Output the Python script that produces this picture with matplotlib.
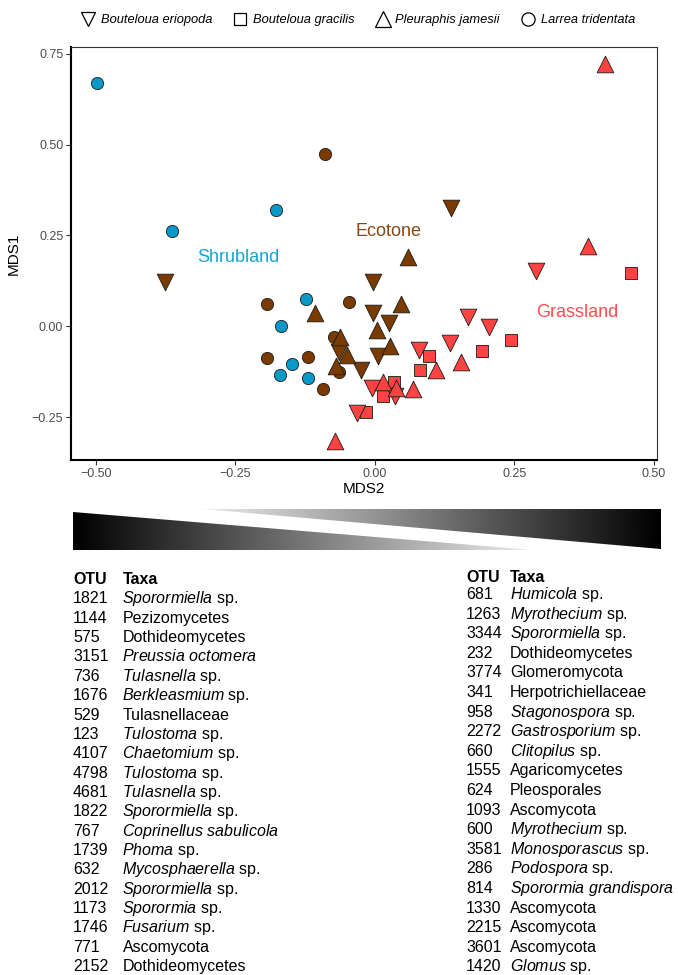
import matplotlib
matplotlib.use('Agg')
import matplotlib.pyplot as plt
import numpy as np
from matplotlib.patches import Polygon
from matplotlib.lines import Line2D

plt.rcParams['font.family'] = ['Liberation Sans', 'DejaVu Sans']
plt.rcParams['mathtext.fontset'] = 'custom'
plt.rcParams['mathtext.rm'] = 'Liberation Sans'
plt.rcParams['mathtext.it'] = 'Liberation Sans:italic'
plt.rcParams['mathtext.bf'] = 'Liberation Sans:bold'
plt.rcParams['axes.unicode_minus'] = True

# ---------------- data ----------------
# Shrubland
shrub_larrea_x = [-0.498, -0.363, -0.177, -0.124, -0.169, -0.148, -0.171, -0.120]
shrub_larrea_y = [0.669, 0.262, 0.319, 0.076, 0.000, -0.103, -0.133, -0.143]
# Ecotone
eco_larrea_x = [-0.089, -0.194, -0.047, -0.194, -0.120, -0.094, -0.073, -0.064]
eco_larrea_y = [0.473, 0.062, 0.068, -0.087, -0.085, -0.171, -0.028, -0.126]
eco_erio_x = [0.136, -0.376, -0.003, -0.003, 0.025, 0.006, -0.025, -0.065]
eco_erio_y = [0.325, 0.123, 0.123, 0.038, 0.009, -0.081, -0.121, -0.069]
eco_jam_x = [0.059, 0.046, 0.004, 0.027, -0.107, -0.063, -0.051, -0.070]
eco_jam_y = [0.190, 0.061, -0.011, -0.053, 0.036, -0.028, -0.078, -0.108]
# Grassland
grass_erio_x = [0.288, 0.166, 0.204, 0.134, 0.079, -0.005, 0.036, -0.033]
grass_erio_y = [0.153, 0.027, -0.001, -0.046, -0.065, -0.170, -0.190, -0.237]
grass_grac_x = [0.458, 0.243, 0.191, 0.097, 0.081, 0.034, 0.015, -0.017]
grass_grac_y = [0.146, -0.037, -0.068, -0.080, -0.121, -0.153, -0.190, -0.234]
grass_jam_x = [0.412, 0.382, 0.155, 0.109, 0.069, 0.015, 0.038, -0.072]
grass_jam_y = [0.721, 0.221, -0.097, -0.120, -0.173, -0.152, -0.170, -0.314]

species = ['Bouteloua eriopoda', 'Bouteloua gracilis', 'Pleuraphis jamesii', 'Larrea tridentata']
sites = ['Shrubland', 'Ecotone', 'Grassland']

xticks = [-0.50, -0.25, 0.00, 0.25, 0.50]
yticks = [-0.25, 0.00, 0.25, 0.50, 0.75]

left_otu = ['1821', '1144', '575', '3151', '736', '1676', '529', '123', '4107', '4798',
            '4681', '1822', '767', '1739', '632', '2012', '1173', '1746', '771', '2152']
left_taxa = ['*Sporormiella* sp.', 'Pezizomycetes', 'Dothideomycetes', '*Preussia octomera*',
             '*Tulasnella* sp.', '*Berkleasmium* sp.', 'Tulasnellaceae', '*Tulostoma* sp.',
             '*Chaetomium* sp.', '*Tulostoma* sp.', '*Tulasnella* sp.', '*Sporormiella* sp.',
             '*Coprinellus sabulicola*', '*Phoma* sp.', '*Mycosphaerella* sp.', '*Sporormiella* sp.',
             '*Sporormia* sp.', '*Fusarium* sp.', 'Ascomycota', 'Dothideomycetes']
right_otu = ['681', '1263', '3344', '232', '3774', '341', '958', '2272', '660', '1555',
             '624', '1093', '600', '3581', '286', '814', '1330', '2215', '3601', '1420']
right_taxa = ['*Humicola* sp.', '*Myrothecium* sp.', '*Sporormiella* sp.', 'Dothideomycetes',
              'Glomeromycota', 'Herpotrichiellaceae', '*Stagonospora* sp.', '*Gastrosporium* sp.',
              '*Clitopilus* sp.', 'Agaricomycetes', 'Pleosporales', 'Ascomycota',
              '*Myrothecium* sp.', '*Monosporascus* sp.', '*Podospora* sp.', '*Sporormia grandispora*',
              'Ascomycota', 'Ascomycota', 'Ascomycota', '*Glomus* sp.']

# ---------------- style ----------------
col = {'Shrubland': '#0A99C6', 'Ecotone': '#7A3B00', 'Grassland': '#FF4242'}
txtcol = {'Shrubland': '#17A3CF', 'Ecotone': '#8A4710', 'Grassland': '#FF4D4D'}
mk = {'Bouteloua eriopoda': 'v', 'Bouteloua gracilis': 's', 'Pleuraphis jamesii': '^', 'Larrea tridentata': 'o'}
msz = {'v': 12.0, 's': 8.0, '^': 12.0, 'o': 8.8}

W, H = 678, 975
fig = plt.figure(figsize=(W / 100, H / 100), dpi=100)
ax = fig.add_axes([71 / W, 1 - 460 / H, 586 / W, 413 / H])

groups = [
    ('Ecotone', 'Larrea tridentata', eco_larrea_x, eco_larrea_y),
    ('Shrubland', 'Larrea tridentata', shrub_larrea_x, shrub_larrea_y),
    ('Ecotone', 'Bouteloua eriopoda', eco_erio_x, eco_erio_y),
    ('Ecotone', 'Pleuraphis jamesii', eco_jam_x, eco_jam_y),
    ('Grassland', 'Bouteloua gracilis', grass_grac_x, grass_grac_y),
    ('Grassland', 'Bouteloua eriopoda', grass_erio_x, grass_erio_y),
    ('Grassland', 'Pleuraphis jamesii', grass_jam_x, grass_jam_y),
]
for site, sp, xs, ys in groups:
    m = mk[sp]
    ax.scatter(xs, ys, s=msz[m] ** 2, marker=m, c=col[site], edgecolors='#1a1a1a',
               linewidths=0.6, zorder=3)

label_pos = {'Shrubland': (-0.2455, 0.176), 'Ecotone': (0.025, 0.249), 'Grassland': (0.363, 0.027)}
for s in sites:
    ax.text(label_pos[s][0], label_pos[s][1], s, color=txtcol[s], fontsize=13,
            ha='center', va='baseline', zorder=4)

ax.set_xlim(-0.5448, 0.5054)
ax.set_ylim(-0.367, 0.768)
ax.set_xticks(xticks)
ax.set_yticks(yticks)
fmt = matplotlib.ticker.FuncFormatter(lambda v, p: ('%.2f' % v).replace('-', '\u2212'))
ax.xaxis.set_major_formatter(fmt)
ax.yaxis.set_major_formatter(fmt)
ax.tick_params(axis='both', direction='out', length=3.5, width=0.8, color='#333333',
               labelsize=9, labelcolor='#4D4D4D', pad=2)
for sname in ['left', 'bottom']:
    ax.spines[sname].set_linewidth(1.5)
    ax.spines[sname].set_color('black')
for sname in ['top', 'right']:
    ax.spines[sname].set_linewidth(0.8)
    ax.spines[sname].set_color('#333333')
ax.set_xlabel('MDS2', fontsize=11, labelpad=2)
ax.set_ylabel('MDS1', fontsize=11, labelpad=8)

# legend
handles = [Line2D([], [], linestyle='none', marker=mk[sp], markersize={'v': 10, 's': 8, '^': 11, 'o': 9.5}[mk[sp]],
                  markerfacecolor='none', markeredgecolor='black', markeredgewidth=0.9) for sp in species]
fig.legend(handles, species, loc='center', bbox_to_anchor=(358 / W, 1 - 20 / H), ncol=4,
           frameon=False, prop={'style': 'italic', 'size': 9.3}, handlelength=1.1,
           handletextpad=0.45, columnspacing=1.6)

# overlay axes in pixel coordinates for gradient and tables
ov = fig.add_axes([0, 0, 1, 1])
ov.axis('off')
ov.patch.set_visible(False)

grad = np.linspace(0, 1, 512).reshape(1, -1)
lw_poly = Polygon([(73, 512), (73, 550), (533, 550)], closed=True, transform=ov.transData,
                  facecolor='none', edgecolor='none')
ov.add_patch(lw_poly)
im1 = ov.imshow(grad, cmap='gray', vmin=0, vmax=1.08, extent=(73, 533, 550, 512), aspect='auto',
                interpolation='bilinear')
im1.set_clip_path(lw_poly)
rw_poly = Polygon([(202, 509), (661, 509), (661, 549)], closed=True, transform=ov.transData,
                  facecolor='none', edgecolor='none')
ov.add_patch(rw_poly)
im2 = ov.imshow(grad[:, ::-1], cmap='gray', vmin=0, vmax=1.08, extent=(202, 661, 549, 509), aspect='auto',
                interpolation='bilinear')
im2.set_clip_path(rw_poly)
ov.set_xlim(0, W)
ov.set_ylim(H, 0)


def to_math(t):
    parts = t.split('*')
    out = ''
    for i, p in enumerate(parts):
        if p == '':
            continue
        if i % 2 == 1:
            out += r'$\mathit{' + p.replace(' ', r'\ ') + '}$'
        else:
            out += p
    return out


tfs = 11.5
def draw_table(x_otu, x_tax, y_head, y0, dy, otus, taxa):
    ov.text(x_otu, y_head, 'OTU', fontsize=tfs, fontweight='bold', va='baseline', ha='left')
    ov.text(x_tax, y_head, 'Taxa', fontsize=tfs, fontweight='bold', va='baseline', ha='left')
    for i, (o, t) in enumerate(zip(otus, taxa)):
        y = y0 + dy * i
        ov.text(x_otu, y, o, fontsize=tfs, va='baseline', ha='left')
        ov.text(x_tax, y, to_math(t), fontsize=tfs, va='baseline', ha='left')


draw_table(73, 122.5, 584, 603.4, 19.35, left_otu, left_taxa)
draw_table(466, 510, 582.4, 599.0, 19.6, right_otu, right_taxa)

fig.savefig('out.png', dpi=100)
